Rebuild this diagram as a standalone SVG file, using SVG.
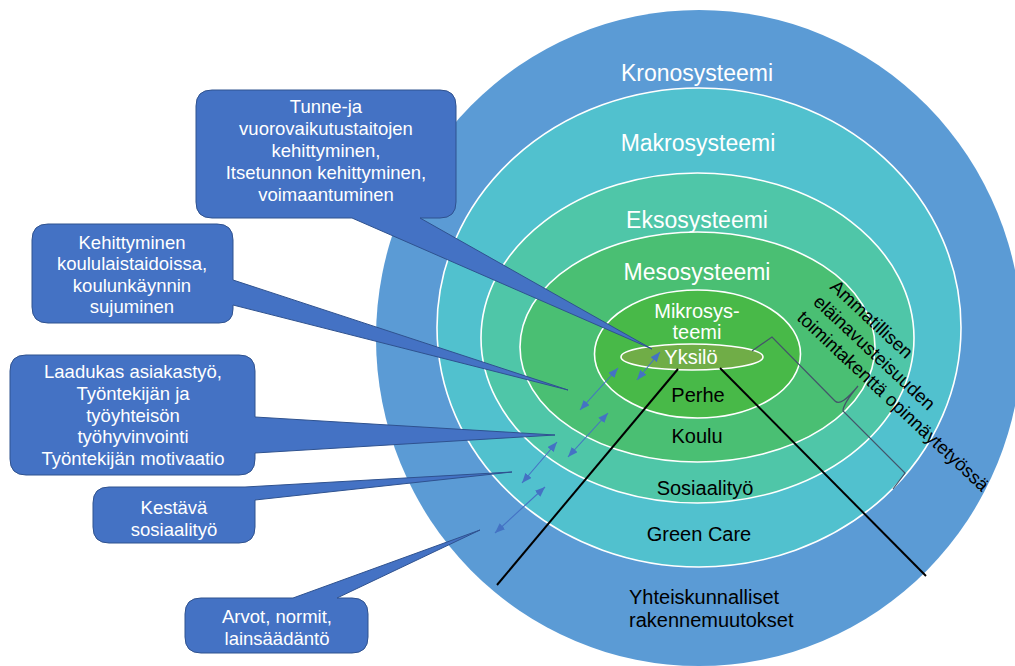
<svg xmlns="http://www.w3.org/2000/svg" width="1015" height="666" viewBox="0 0 1015 666">
<defs>
<marker id="ah" viewBox="0 0 10 8" refX="10" refY="4" markerWidth="10" markerHeight="8" markerUnits="userSpaceOnUse" orient="auto-start-reverse">
<path d="M0,0 L10,4 L0,8 Z" fill="#4472C4"/>
</marker>
<style>
text{font-family:"Liberation Sans",Arial,sans-serif}
.ring{stroke:#fff;stroke-width:1.6}
.t1{font-size:23px;fill:#fff;text-anchor:middle}
.t2{font-size:20px;fill:#fff;text-anchor:middle}
.t3{font-size:20px;fill:#000;text-anchor:middle}
.co{fill:#4472C4;stroke:#2F528F;stroke-width:1}
.ct{font-size:18.5px;fill:#fff;text-anchor:middle}
.dbl{stroke:#4472C4;stroke-width:1.1;fill:none;marker-start:url(#ah);marker-end:url(#ah)}
.bl{stroke:#000;stroke-width:2;fill:none}
</style>
</defs>
<rect width="1015" height="666" fill="#fff"/>
<g id="kronosysteemi">
<ellipse cx="699" cy="338" rx="323" ry="328" fill="#5B9BD5"/>
<text class="t1" x="697" y="81">Kronosysteemi</text>
<text x="629" y="604" font-size="20" fill="#000">Yhteiskunnalliset</text>
<text x="629" y="627" font-size="20" fill="#000">rakennemuutokset</text>
</g>
<g id="makrosysteemi">
<ellipse class="ring" cx="699" cy="327.5" rx="262" ry="239.5" fill="#51C1CE"/>
<text class="t1" x="698" y="151">Makrosysteemi</text>
<text class="t3" x="699" y="541">Green Care</text>
</g>
<g id="eksosysteemi">
<ellipse class="ring" cx="697.5" cy="338" rx="216.5" ry="165" fill="#4FC6A8"/>
<text class="t1" x="697" y="228">Eksosysteemi</text>
<text class="t3" x="705" y="495">Sosiaalityö</text>
</g>
<g id="mesosysteemi">
<ellipse class="ring" cx="697.5" cy="347" rx="177.5" ry="115" fill="#4ABF73"/>
<text class="t1" x="697" y="280">Mesosysteemi</text>
<text class="t3" x="697" y="443" font-size="19">Koulu</text>
</g>
<g id="mikrosysteemi">
<ellipse class="ring" cx="697.5" cy="354" rx="103" ry="64" fill="#48B948"/>
<text class="t2" x="697" y="318">Mikrosys-</text>
<text class="t2" x="697" y="339">teemi</text>
<text class="t3" x="698" y="402" font-size="19">Perhe</text>
</g>
<g id="yksilo">
<ellipse class="ring" cx="692" cy="357" rx="71" ry="13" fill="#70AD47"/>
<text class="t2" x="691" y="364">Yksilö</text>
</g>
<g id="connectors">
<line class="bl" x1="678" y1="369" x2="497" y2="585"/>
<line class="bl" x1="720" y1="368" x2="926" y2="576"/>
<path d="M752,351 L772,337 L835,401 Q841,407 858,386 Q843,404 843,411 L905,473 L893,489" fill="none" stroke="#44546A" stroke-width="1.2"/>
<line class="dbl" x1="660" y1="352" x2="637" y2="380"/>
<line class="dbl" x1="618" y1="368" x2="580" y2="410"/>
<line class="dbl" x1="608" y1="413" x2="568" y2="457"/>
<line class="dbl" x1="557" y1="442" x2="522" y2="483"/>
<line class="dbl" x1="545" y1="487" x2="495" y2="533"/>
</g>
<g id="ammatillisen" transform="translate(829,288) rotate(43)">
<text x="0" y="0" font-size="18.5" fill="#000">Ammatillisen</text>
<text x="-2" y="22.6" font-size="18.5" fill="#000">eläinavusteisuuden</text>
<text x="-3" y="45.2" font-size="18.5" fill="#000">toimintakenttä opinnäytetyössä</text>
</g>
<g id="callout-tunne">
<path class="co" d="M212,90 H440 Q456,90 456,106 V202 Q456,218 440,218 H420 L652,349 L352,218 H212 Q196,218 196,202 V106 Q196,90 212,90 Z"/>
<text class="ct" x="326" y="113">Tunne-ja</text>
<text class="ct" x="326" y="135">vuorovaikutustaitojen</text>
<text class="ct" x="326" y="157">kehittyminen,</text>
<text class="ct" x="326" y="179">Itsetunnon kehittyminen,</text>
<text class="ct" x="326" y="201">voimaantuminen</text>
</g>
<g id="callout-kehittyminen">
<path class="co" d="M48,224 H217 Q233,224 233,240 V280 L568,390 L233,305 V309 Q233,323 219,323 H48 Q32,323 32,307 V240 Q32,224 48,224 Z"/>
<text class="ct" x="132" y="249">Kehittyminen</text>
<text class="ct" x="132" y="270">koululaistaidoissa,</text>
<text class="ct" x="132" y="291.5">koulunkäynnin</text>
<text class="ct" x="132" y="313">sujuminen</text>
</g>
<g id="callout-laadukas">
<path class="co" d="M26,355 H239 Q255,355 255,371 V417 L555,435 L255,453 V459 Q255,475 239,475 H26 Q10,475 10,459 V371 Q10,355 26,355 Z"/>
<text class="ct" x="133" y="378">Laadukas asiakastyö,</text>
<text class="ct" x="133" y="400">Työntekijän ja</text>
<text class="ct" x="133" y="421.5">työyhteisön</text>
<text class="ct" x="133" y="443">työhyvinvointi</text>
<text class="ct" x="133" y="465">Työntekijän motivaatio</text>
</g>
<g id="callout-kestava">
<path class="co" d="M109,487 H245 L512,472 L255,500 V527 Q255,543 239,543 H109 Q93,543 93,527 V503 Q93,487 109,487 Z"/>
<text class="ct" x="174" y="514">Kestävä</text>
<text class="ct" x="174" y="536">sosiaalityö</text>
</g>
<g id="callout-arvot">
<path class="co" d="M201,598 H293 L480,530 L337,598 H352 Q368,598 368,614 V637 Q368,653 352,653 H201 Q185,653 185,637 V614 Q185,598 201,598 Z"/>
<text class="ct" x="277" y="623">Arvot, normit,</text>
<text class="ct" x="277" y="645">lainsäädäntö</text>
</g>
</svg>
